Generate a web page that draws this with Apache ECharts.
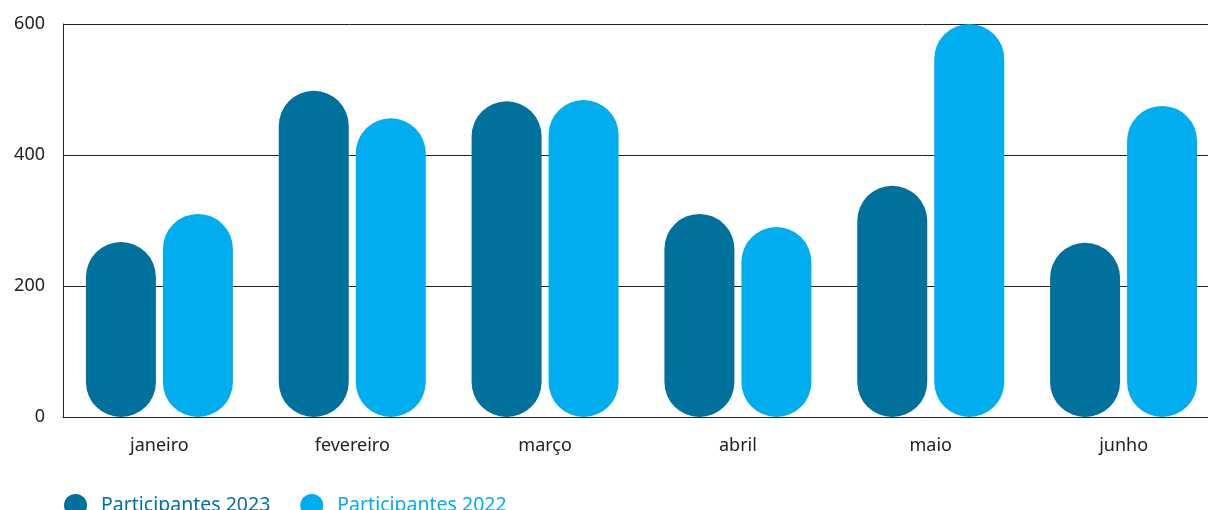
<!DOCTYPE html>
<html>
<head>
<meta charset="utf-8">
<script src="https://cdn.jsdelivr.net/npm/echarts@6/dist/echarts.min.js"></script>
<style>
  html, body { margin: 0; padding: 0; background: #fff; }
  #chart { width: 1208px; height: 510px; }
</style>
</head>
<body>
<div id="chart"></div>
<script>
const months = ['janeiro', 'fevereiro', 'março', 'abril', 'maio', 'junho'];
const part2023 = [267, 498, 482, 310, 353, 266];
const part2022 = [310, 456, 484, 290, 600, 475];
const yTicks = [0, 200, 400, 600];

const chart = echarts.init(document.getElementById('chart'));
const font = '"Noto Sans", sans-serif';

chart.setOption({
    animation: false,
    backgroundColor: '#ffffff',
    // the plot runs a little past the right edge in the original
    grid: { left: 63, right: -12, top: 24, bottom: 93, outerBoundsMode: 'none' },
    legend: {
        left: 59,
        top: 489,
        icon: 'circle',
        itemWidth: 23,
        itemHeight: 23,
        itemGap: 30,
        textStyle: { fontFamily: font, fontSize: 19.5, color: 'inherit', padding: [0, 0, 0, 9] },
        data: ['Participantes 2023', 'Participantes 2022']
    },
    xAxis: {
        type: 'category',
        data: months,
        axisLine: { show: true, lineStyle: { color: '#222', width: 1 } },
        axisTick: { show: false },
        axisLabel: { fontFamily: font, fontSize: 18, color: '#222', margin: 20 }
    },
    yAxis: {
        type: 'value',
        min: yTicks[0],
        max: yTicks[yTicks.length - 1],
        interval: 200,
        axisLine: { show: true, lineStyle: { color: '#222', width: 1 } },
        axisTick: { show: false },
        splitLine: { show: true, lineStyle: { color: '#222', width: 1 } },
        axisLabel: { fontFamily: font, fontSize: 18, color: '#222', margin: 18 }
    },
    series: [
        {
            name: 'Participantes 2023',
            type: 'bar',
            data: part2023,
            barWidth: 70,
            barGap: '10%',
            itemStyle: { color: '#00719c', borderRadius: 35 }
        },
        {
            name: 'Participantes 2022',
            type: 'bar',
            data: part2022,
            barWidth: 70,
            itemStyle: { color: '#00aeef', borderRadius: 35 }
        }
    ]
});
</script>
</body>
</html>
